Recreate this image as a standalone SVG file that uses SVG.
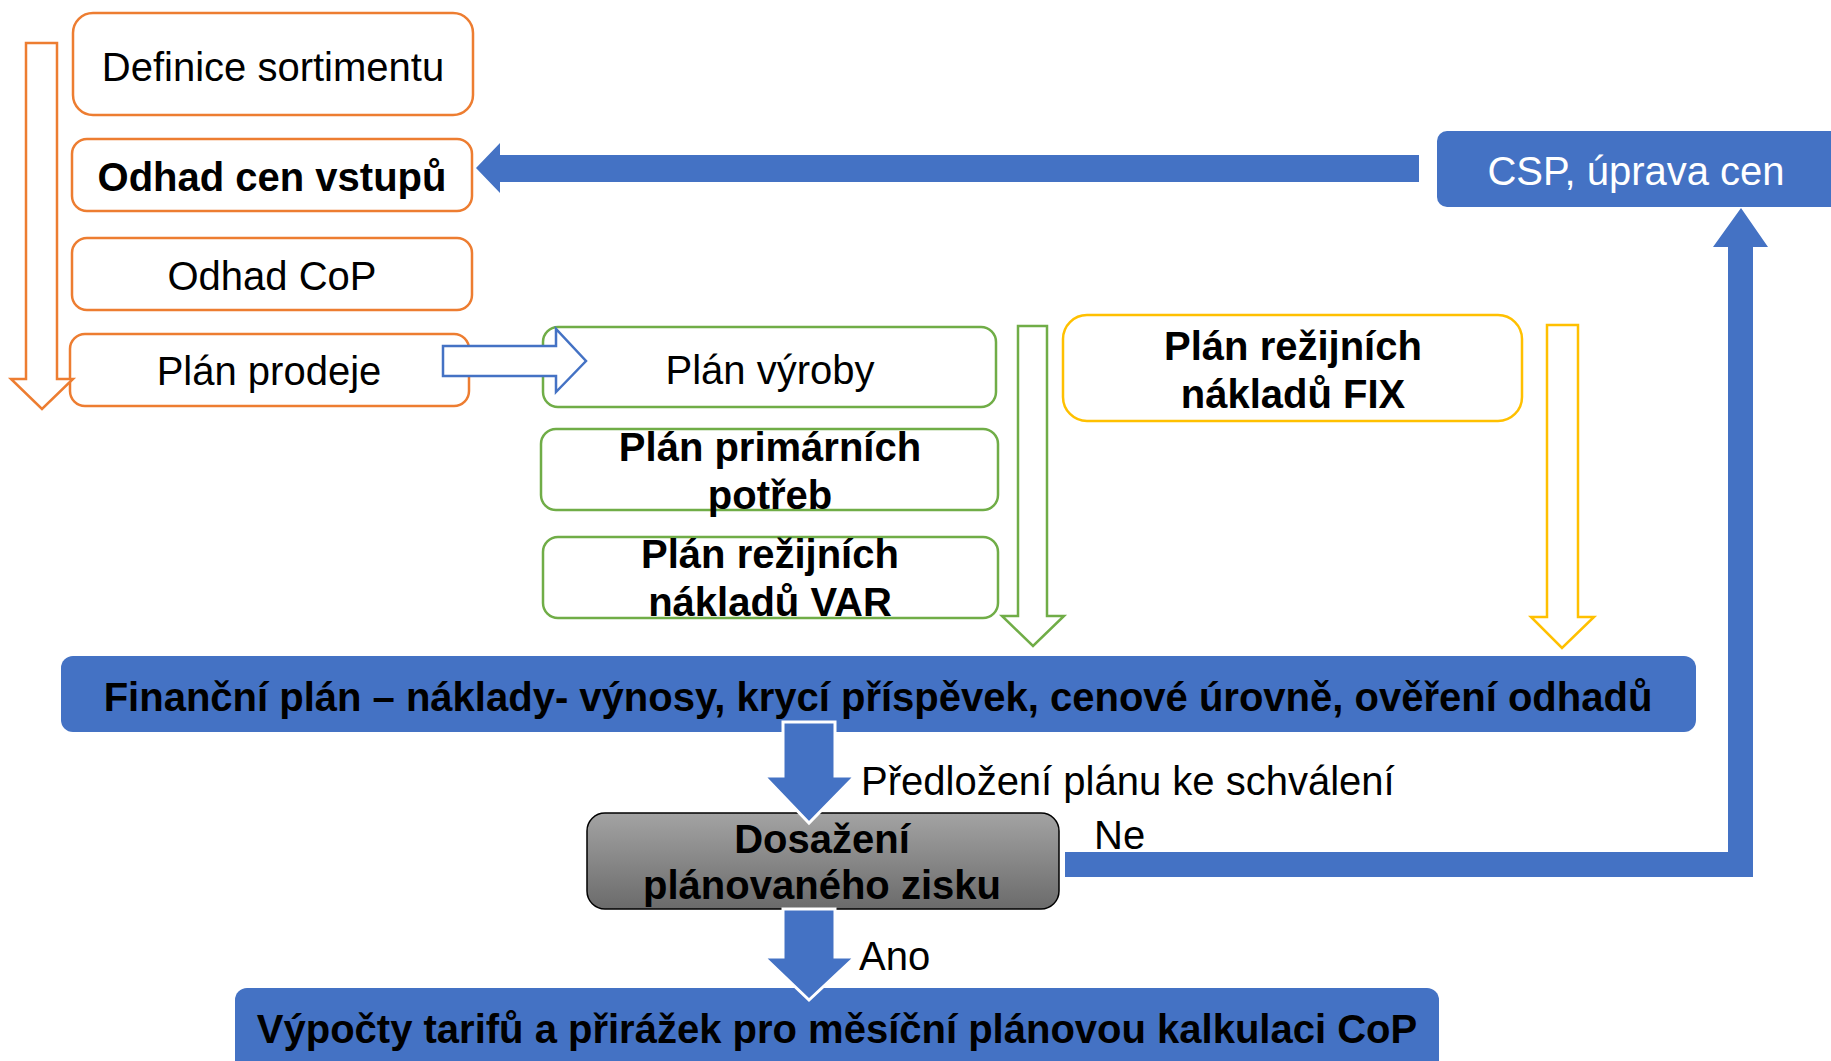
<svg xmlns="http://www.w3.org/2000/svg" width="1831" height="1061" viewBox="0 0 1831 1061">
  <defs>
    <linearGradient id="grayFill" x1="0" y1="0" x2="0" y2="1">
      <stop offset="0" stop-color="#a3a3a3"/>
      <stop offset="1" stop-color="#6b6b6b"/>
    </linearGradient>
    <style>
      text { font-family: "Liberation Sans", Arial, sans-serif; font-size: 40px; fill: #000; }
      .c { text-anchor: middle; }
      .b { font-weight: bold; }
      .w { fill: #fff; }
      .orange { fill: #fff; stroke: #ED7D31; stroke-width: 2.5; }
      .green { fill: #fff; stroke: #70AD47; stroke-width: 2.5; }
      .yellow { fill: #fff; stroke: #FFC000; stroke-width: 2.5; }
      .blue { fill: #4472C4; }
      .outline-blue { fill: #fff; stroke: #4472C4; stroke-width: 2.5; }
      .solid-arrow { fill: #4472C4; stroke: #fff; stroke-width: 3; }
      .gray { fill: url(#grayFill); stroke: #000; stroke-width: 1.5; }
    </style>
  </defs>
  <rect width="1831" height="1061" fill="#fff"/>

  <!-- process steps -->
  <g id="definice">
    <rect class="orange" x="73" y="13" width="400" height="102" rx="20"/>
    <text class="c" x="273" y="81">Definice sortimentu</text>
  </g>
  <g id="odhad-cen">
    <rect class="orange" x="72" y="139" width="400" height="72" rx="15"/>
    <text class="c b" x="272" y="191">Odhad cen vstupů</text>
  </g>
  <g id="odhad-cop">
    <rect class="orange" x="72" y="238" width="400" height="72" rx="15"/>
    <text class="c" x="272" y="290">Odhad CoP</text>
  </g>
  <g id="plan-prodeje">
    <rect class="orange" x="70" y="334" width="399" height="72" rx="15"/>
    <text class="c" x="269" y="385">Plán prodeje</text>
  </g>
  <g id="plan-vyroby">
    <rect class="green" x="543" y="327" width="453" height="80" rx="15"/>
    <text class="c" x="770" y="384">Plán výroby</text>
  </g>
  <g id="plan-primarnich">
    <rect class="green" x="541" y="429" width="457" height="81" rx="15"/>
    <text class="c b" x="770" y="461">Plán primárních</text>
    <text class="c b" x="770" y="509">potřeb</text>
  </g>
  <g id="plan-var">
    <rect class="green" x="543" y="537" width="455" height="81" rx="15"/>
    <text class="c b" x="770" y="568">Plán režijních</text>
    <text class="c b" x="770" y="616">nákladů VAR</text>
  </g>
  <g id="plan-fix">
    <rect class="yellow" x="1063" y="315" width="459" height="106" rx="24"/>
    <text class="c b" x="1293" y="360">Plán režijních</text>
    <text class="c b" x="1293" y="408">nákladů FIX</text>
  </g>
  <g id="csp">
    <rect class="blue" x="1437" y="131" width="410" height="76" rx="10"/>
    <text class="c w" x="1636" y="185">CSP, úprava cen</text>
  </g>
  <g id="financni-plan">
    <rect class="blue" x="61" y="656" width="1635" height="76" rx="12"/>
    <text class="c b" x="878" y="711">Finanční plán – náklady- výnosy, krycí příspěvek, cenové úrovně, ověření odhadů</text>
  </g>
  <g id="dosazeni">
    <rect class="gray" x="587" y="813" width="472" height="96" rx="18"/>
    <text class="c b" x="822" y="853">Dosažení</text>
    <text class="c b" x="822" y="899">plánovaného zisku</text>
  </g>
  <g id="vypocty">
    <rect class="blue" x="235" y="988" width="1204" height="90" rx="12"/>
    <text class="c b" x="837" y="1043">Výpočty tarifů a přirážek pro měsíční plánovou kalkulaci CoP</text>
  </g>

  <!-- connectors -->
  <g id="connectors">
    <path class="orange" d="M26,43 H57 V379 H73 L42,409 L11,379 H26 Z"/>
    <path class="outline-blue" d="M443,346 H556 V329 L586,361 L556,392 V376 H443 Z"/>
    <path class="green" d="M1018,326 H1047 V616 H1064 L1033,646 L1002,616 H1018 Z"/>
    <path class="yellow" d="M1547,325 H1578 V617 H1594 L1562,648 L1531,617 H1547 Z"/>
    <path class="blue" d="M1419,155 V182 H500 V193 L476,168 L500,143 V155 Z"/>
    <path class="blue" d="M1065,852 H1728 V247 H1713 L1741,208 L1768,247 H1753 V877 H1065 Z"/>
    <path class="solid-arrow" d="M783,722 H835 V776 H855 L809,823 L764,776 H783 Z"/>
    <path class="solid-arrow" d="M783,909 H835 V957 H855 L809,1000 L764,957 H783 Z"/>
    <text x="861" y="795">Předložení plánu ke schválení</text>
    <text x="1094" y="849">Ne</text>
    <text x="859" y="970">Ano</text>
  </g>
</svg>
